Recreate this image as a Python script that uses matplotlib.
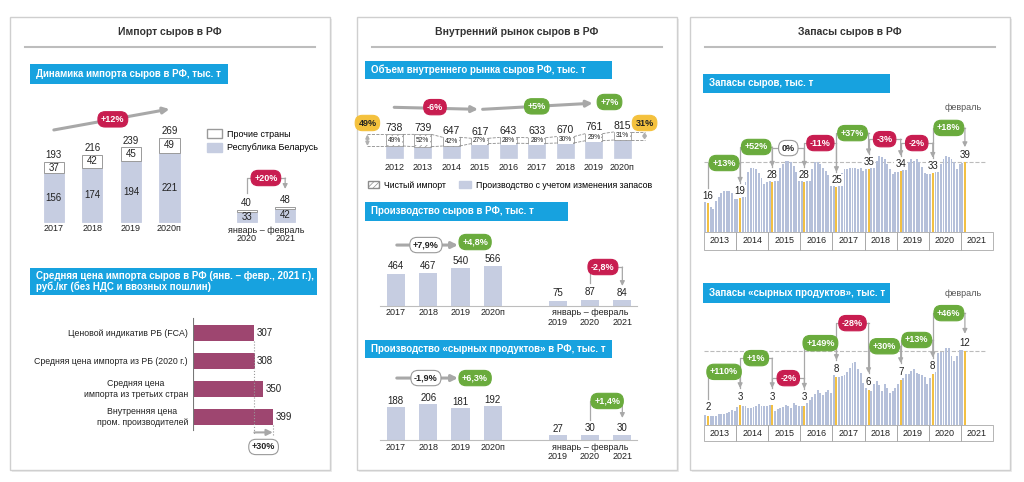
"""Cheese market infographic: import, domestic market and stocks (RF)."""

import matplotlib

matplotlib.use("Agg")
import matplotlib.pyplot as plt
from matplotlib.patches import Patch, Rectangle

plt.rcParams["font.family"] = ["Liberation Sans", "DejaVu Sans"]
plt.rcParams["hatch.linewidth"] = 0.5

W, H = 1024, 482

BAR = "#c6cde1"
MONTH_BAR = "#b5c0da"
FEB_BAR = "#f2c043"
BLUE = "#17a2df"
RED = "#c81d50"
GREEN = "#6aab3d"
YELLOW = "#f4c13d"
MAROON = "#9e4670"
ARROW = "#a8a8a8"
TEXT = "#222222"

# --- import of cheese ---------------------------------------------------
import_years = ["2017", "2018", "2019", "2020п"]
import_belarus = [156, 174, 194, 221]
import_other = [37, 42, 45, 49]
import_total = [193, 216, 239, 269]
import_jf_years = ["2020", "2021"]
import_jf_belarus = [33, 42]
import_jf_other = [7, 6]
import_jf_total = [40, 48]
import_trend = "+12%"
import_jf_change = "+20%"

price_labels = [
    "Ценовой индикатив РБ (FCA)",
    "Средняя цена импорта из РБ (2020 г.)",
    "Средняя цена\nимпорта из третьих стран",
    "Внутренняя цена\nпром. производителей",
]
price_values = [307, 308, 350, 399]
price_gap = "+30%"

# --- domestic market ----------------------------------------------------
market_years = ["2012", "2013", "2014", "2015", "2016", "2017", "2018", "2019", "2020п"]
market_total = [738, 739, 647, 617, 643, 633, 670, 761, 815]
market_import_share = [49, 52, 42, 27, 28, 28, 30, 29, 31]
market_changes = ["-6%", "+5%", "+7%"]

prod_years = ["2017", "2018", "2019", "2020п"]
prod_values = [464, 467, 540, 566]
jf_years = ["2019", "2020", "2021"]
prod_jf = [75, 87, 84]
prod_changes = ["+7,9%", "+4,8%", "-2,8%"]

cp_values = [188, 206, 181, 192]
cp_jf = [27, 30, 30]
cp_changes = ["-1,9%", "+6,3%", "+1,4%"]

# --- stocks, monthly Jan 2013 .. Feb 2021 -------------------------------
stock_years = ["2013", "2014", "2015", "2016", "2017", "2018", "2019", "2020", "2021"]
cheese_stock = [
    18.5, 16, 14, 13, 17, 19.5, 22, 23, 23, 23, 21.5, 18.5,
    18.5, 19, 22, 28, 33.5, 36, 36, 35, 33, 30, 27, 28,
    29, 28, 30, 33, 36, 38, 40, 40, 39, 37, 33.5, 31,
    31, 28, 30, 32, 35, 39, 39, 38, 36, 34, 32, 30,
    26, 25, 29, 33, 35, 35.5, 36, 36, 36, 35, 36, 34,
    35.5, 35, 36, 37, 40, 42.4, 42, 41, 38, 35.5, 32.7, 33.6,
    33.6, 34, 35.5, 37.4, 39, 40.6, 40, 41, 39, 36.4, 33, 32.7,
    32.7, 33, 33.6, 35.5, 38, 41, 42.4, 42, 41, 39, 35.5, 38,
    38.7, 39,
]
cheese_feb_labels = ["16", "19", "28", "28", "25", "35", "34", "33", "39"]
cheese_changes = ["+13%", "+52%", "0%", "-11%", "+37%", "-3%", "-2%", "+18%"]

cp_stock = [
    1.6, 1.5, 1.4, 1.4, 1.5, 1.7, 1.7, 1.8, 2.0, 2.1, 2.4, 2.2,
    2.9, 3.2, 3.0, 3.0, 2.8, 2.8, 2.9, 3.1, 3.3, 3.0, 3.0, 3.1,
    3.2, 3.2, 2.3, 2.6, 2.7, 2.9, 3.2, 3.0, 2.7, 3.5, 3.2, 3.1,
    3.1, 3.1, 3.6, 4.0, 4.5, 5.0, 5.6, 5.2, 4.8, 5.3, 5.6, 5.2,
    8.3, 7.7, 7.7, 7.8, 8.0, 8.5, 9.2, 10.0, 10.1, 9.0, 8.3, 6.7,
    6.5, 5.6, 5.5, 6.5, 7.0, 6.4, 5.5, 6.6, 6.0, 5.2, 5.5, 6.0,
    6.6, 7.2, 8.3, 8.2, 8.1, 8.6, 8.9, 8.3, 8.2, 8.0, 7.7, 6.6,
    7.5, 8.1, 10.0, 11.5, 11.7, 11.7, 12.3, 12.4, 11.0, 10.3, 11.0, 12.0,
    12.0, 11.9,
]
cp_feb_labels = ["2", "3", "3", "3", "8", "6", "7", "8", "12"]
cp_stock_changes = ["+110%", "+1%", "-2%", "+149%", "-28%", "+30%", "+13%", "+46%"]


fig = plt.figure(figsize=(W / 100, H / 100), dpi=100)
fig.patch.set_facecolor("white")

bg = fig.add_axes([0, 0, 1, 1])
bg.set_xlim(0, W)
bg.set_ylim(H, 0)
bg.axis("off")


def px_axes(x0, y0, x1, y1, xlim, ylim):
    ax = fig.add_axes([x0 / W, 1 - y1 / H, (x1 - x0) / W, (y1 - y0) / H])
    ax.set_xlim(*xlim)
    ax.set_ylim(*ylim)
    ax.set_facecolor("none")
    ax.axis("off")
    return ax


def badge(ax, x, y, text, kind=None, fs=6.5):
    if kind is None:
        kind = "green" if text.startswith("+") else "red" if text.startswith("-") else "white"
    fc, tc, ec = {
        "green": (GREEN, "white", GREEN),
        "red": (RED, "white", RED),
        "white": ("white", TEXT, "#9a9a9a"),
        "yellow": (YELLOW, TEXT, YELLOW),
    }[kind]
    ax.text(x, y, text, ha="center", va="center", fontsize=fs, weight="bold", color=tc,
            zorder=8, clip_on=False,
            bbox=dict(boxstyle="round,pad=0.35,rounding_size=0.8", fc=fc, ec=ec, lw=0.8))


def bracket(ax, x0, y0, x1, y1, ytop):
    ax.plot([x0, x0, x1], [y0, ytop, ytop], color=ARROW, lw=0.9, zorder=5, clip_on=False)
    ax.annotate("", xy=(x1, y1), xytext=(x1, ytop), annotation_clip=False, zorder=5,
                arrowprops=dict(arrowstyle="-|>", color=ARROW, lw=0.9, mutation_scale=7,
                                shrinkA=0, shrinkB=0))


def trend(ax, p0, p1, lw=2.2):
    ax.annotate("", xy=p1, xytext=p0, annotation_clip=False, zorder=4,
                arrowprops=dict(arrowstyle="-|>", color=ARROW, lw=lw, mutation_scale=9,
                                shrinkA=0, shrinkB=0))


# panels, titles and blue headers
panels = [
    (10, 330, "Импорт сыров в РФ"),
    (357, 677, "Внутренний рынок сыров в РФ"),
    (690, 1010, "Запасы сыров в РФ"),
]
for x0, x1, title in panels:
    bg.add_patch(Rectangle((x0 + 2, 19), x1 - x0, 453, fc="#ececec", ec="none"))
    bg.add_patch(Rectangle((x0, 17), x1 - x0, 453, fc="white", ec="#cfcfcf", lw=1))
    bg.text((x0 + x1) / 2, 32, title, ha="center", va="center", fontsize=7.5,
            weight="bold", color="#333333")
    bg.plot([x0 + 15, x1 - 15], [47, 47], color="#bdbdbd", lw=1.5)

headers = [
    (30, 64, 228, 84, "Динамика импорта сыров в РФ, тыс. т"),
    (30, 268, 317, 295, "Средняя цена импорта сыров в РФ (янв. – февр., 2021 г.),\n"
                        "руб./кг (без НДС и ввозных пошлин)"),
    (365, 61, 612, 79, "Объем внутреннего рынка сыров РФ, тыс. т"),
    (365, 202, 568, 221, "Производство сыров в РФ, тыс. т"),
    (365, 340, 612, 358, "Производство «сырных продуктов» в РФ, тыс. т"),
    (703, 74, 890, 93, "Запасы сыров, тыс. т"),
    (703, 283, 890, 303, "Запасы «сырных продуктов», тыс. т"),
]
for x0, y0, x1, y1, label in headers:
    bg.add_patch(Rectangle((x0, y0), x1 - x0, y1 - y0, fc=BLUE, ec="none"))
    bg.text(x0 + 6, (y0 + y1) / 2, label, ha="left", va="center", fontsize=7,
            weight="bold", color="white", linespacing=1.15)

# ---- panel 1: import dynamics ----
ax = px_axes(23, 100, 316, 245, (-0.8, 6.8), (-73.7, 391))
xs = [0, 1, 2, 3]
xj = [5, 6]
ax.bar(xs + xj, import_belarus + import_jf_belarus, width=0.52, color=BAR, edgecolor=BAR, lw=0.6)
ax.bar(xs + xj, import_other + import_jf_other, bottom=import_belarus + import_jf_belarus,
       width=0.52, color="white", edgecolor="#9a9a9a", lw=0.7)
for x, b, o, t in zip(xs + xj, import_belarus + import_jf_belarus,
                      import_other + import_jf_other, import_total + import_jf_total):
    ax.text(x, b / 2, str(b), ha="center", va="center", fontsize=7, color=TEXT)
    if o > 20:
        ax.text(x, b + o / 2, str(o), ha="center", va="center", fontsize=7, color=TEXT)
    ax.text(x, t + 22, str(t), ha="center", va="center", fontsize=7, color=TEXT)
for x, yr in zip(xs, import_years):
    ax.text(x, -22, yr, ha="center", va="center", fontsize=6.5, color=TEXT)
ax.text(5.5, -28, "январь – февраль", ha="center", va="center", fontsize=6.5, color=TEXT)
for x, yr in zip(xj, import_jf_years):
    ax.text(x, -54, yr, ha="center", va="center", fontsize=6.5, color=TEXT)
ax.legend([Patch(fc="white", ec="#9a9a9a"), Patch(fc=BAR, ec=BAR)],
          ["Прочие страны", "Республика Беларусь"], loc="upper left",
          bbox_to_anchor=(0.614, 0.83), frameon=False, fontsize=6.5, handlelength=1.6,
          handleheight=1.1, labelspacing=0.5, borderpad=0, handletextpad=0.6)
trend(ax, (0, 295), (3, 362))
badge(ax, 1.53, 329, import_trend, "red")
bracket(ax, 5, import_jf_total[0] + 53, 6, import_jf_total[1] + 58, 141)
badge(ax, 5.5, 141, import_jf_change, "red")

# ---- panel 1: import prices ----
ax = px_axes(193, 305, 313, 462, (0, 600), (4.607, -1.0))
yi = list(range(len(price_values)))
ax.barh(yi, price_values, height=0.54, color=MAROON)
for y, v, lab in zip(yi, price_values, price_labels):
    ax.text(v + 12, y, str(v), ha="left", va="center", fontsize=7, color=TEXT)
    ax.text(-25, y, lab, ha="right", va="center", multialignment="center",
            fontsize=6.3, color=TEXT, linespacing=1.2)
ax.plot([0, 0], [-0.55, 3.45], color="#777777", lw=0.8)
ax.plot([price_values[0]] * 2, [0.27, 3.65], ls=":", color="#999999", lw=0.8)
ax.plot([price_values[-1]] * 2, [3.27, 3.65], ls=":", color="#999999", lw=0.8)
trend(ax, (price_values[0], 3.55), (price_values[-1], 3.55), lw=1.5)
badge(ax, (price_values[0] + price_values[-1]) / 2, 4.07, price_gap, "white")

# ---- panel 2: domestic market volume ----
ax = px_axes(360, 95, 648, 195, (-1.2, 8.9), (-1156, 1969))
xm = list(range(len(market_total)))
imp = [t * s / 100 for t, s in zip(market_total, market_import_share)]
prod = [t - i for t, i in zip(market_total, imp)]
ax.bar(xm, prod, width=0.6, color=BAR, edgecolor=BAR, lw=0.5)
ax.bar(xm, imp, bottom=prod, width=0.6, color="white", edgecolor="#8c8c8c",
       hatch="//////", lw=0.5)
for x, p, i, t, s, yr in zip(xm, prod, imp, market_total, market_import_share, market_years):
    ax.text(x, p + i / 2, f"{s}%", ha="center", va="center", fontsize=4.8, color=TEXT,
            bbox=dict(boxstyle="square,pad=0.15", fc="white", ec="none"))
    ax.text(x, t + 200, str(t), ha="center", va="center", fontsize=7.5, color=TEXT)
    ax.text(x, -312, yr, ha="center", va="center", fontsize=6.5, color=TEXT)
for level in (market_total, prod):
    for i in range(len(level) - 1):
        ax.plot([i + 0.3, i + 0.7], [level[i], level[i + 1]], ls="--", color="#8c8c8c", lw=0.6)
    ax.plot([-0.94, -0.3], [level[0]] * 2, ls="--", color="#8c8c8c", lw=0.6)
    ax.plot([8.3, 8.78], [level[-1]] * 2, ls="--", color="#8c8c8c", lw=0.6)
for x, k in ((-0.94, 0), (8.78, -1)):
    ax.annotate("", xy=(x, market_total[k]), xytext=(x, prod[k]), annotation_clip=False,
                arrowprops=dict(arrowstyle="<|-|>", color="#b0b0b0", lw=1.2,
                                mutation_scale=5, shrinkA=0, shrinkB=0))
ax.legend([Patch(fc="white", ec="#8c8c8c", hatch="//////"), Patch(fc=BAR, ec=BAR)],
          ["Чистый импорт", "Производство с учетом изменения запасов"], loc="center",
          bbox_to_anchor=(0.52, 0.1), ncol=2, frameon=False, fontsize=6.3,
          handlelength=1.3, columnspacing=1.5, handletextpad=0.6)
trend(ax, (0, 1584), (2.94, 1522))
trend(ax, (3.1, 1522), (6.96, 1712))
badge(ax, 1.43, 1590, market_changes[0])
badge(ax, 5.0, 1614, market_changes[1])
badge(ax, 7.55, 1750, market_changes[2])
badge(ax, -0.94, 1094, f"{market_import_share[0]}%", "yellow")
badge(ax, 8.78, 1094, f"{market_import_share[-1]}%", "yellow")


def production_chart(box, ylim, values, jf_values, changes, lab_off, yr_y, sub_y,
                     trend_y, green_y, br, badge_pos):
    ax = px_axes(*box, (-1.2, 7.7), ylim)
    xs = [0, 1, 2, 3]
    xj = [5, 6, 7]
    ax.bar(xs + xj, values + jf_values, width=0.56, color=BAR)
    ax.plot([-0.5, 7.45], [0, 0], color="#bdbdbd", lw=0.8)
    for x, v in zip(xs + xj, values + jf_values):
        ax.text(x, v + lab_off, str(v), ha="center", va="center", fontsize=7, color=TEXT)
    for x, yr in zip(xs, prod_years):
        ax.text(x, yr_y, yr, ha="center", va="center", fontsize=6.5, color=TEXT)
    ax.text(6, yr_y, "январь – февраль", ha="center", va="center", fontsize=6.5, color=TEXT)
    for x, yr in zip(xj, jf_years):
        ax.text(x, sub_y, yr, ha="center", va="center", fontsize=6.5, color=TEXT)
    trend(ax, (0.03, trend_y), (1.92, trend_y))
    badge(ax, 0.93, trend_y, changes[0], "white")
    badge(ax, 2.45, green_y, changes[1])
    bracket(ax, 6, br[0], 7, br[1], br[2])
    badge(ax, badge_pos, br[2], changes[2])


production_chart((357, 230, 645, 330), (-343, 1086), prod_values, prod_jf, prod_changes,
                 108, -100, -229, 871, 914, (329, 286, 557), 6.4)
production_chart((357, 365, 645, 462), (-125.7, 428.6), cp_values, cp_jf, cp_changes,
                 36, -40, -97, 354, 354, (114, 126, 223), 6.53)


# ---- panel 3: monthly stocks ----
def stock_chart(box, ylim, values, feb_labels, changes, levels, lab_off, arr_off, box_h,
                feb_text_y):
    ax = px_axes(*box, (-0.5, 107.5), ylim)
    xm = list(range(len(values)))
    colors = [FEB_BAR if i % 12 == 1 else MONTH_BAR for i in xm]
    ax.bar(xm, values, width=0.72, color=colors)
    feb = values[1::12]
    ax.plot([-0.5, 105], [feb[-1]] * 2, ls="--", color="#bbbbbb", lw=0.8, zorder=0)
    for k, yr in enumerate(stock_years):
        ax.add_patch(Rectangle((12 * k - 0.5, -box_h), 12, box_h, fc="none",
                               ec="#a8a8a8", lw=0.6, clip_on=False))
        ax.text(12 * k + 5.5, -box_h / 2, yr, ha="center", va="center", fontsize=6.5,
                color=TEXT)
    for k, (v, lab) in enumerate(zip(feb, feb_labels)):
        ax.text(12 * k + 1, v + lab_off, lab, ha="center", va="center", fontsize=7,
                color=TEXT, zorder=6,
                bbox=dict(boxstyle="square,pad=0.1", fc="white", ec="none"))
    for k, (ch, lvl) in enumerate(zip(changes, levels)):
        x0, x1 = 12 * k + 1, 12 * k + 13
        bracket(ax, x0, feb[k] + arr_off, x1, feb[k + 1] + arr_off, lvl)
        badge(ax, (x0 + x1) / 2, lvl, ch)
    ax.text(96.3, feb_text_y, "февраль", ha="center", va="center", fontsize=6.5,
            color="#555555")


stock_chart((704, 100, 993, 252), (-11.4, 74), cheese_stock, cheese_feb_labels,
            cheese_changes, [38.6, 47.6, 47, 49.8, 55.4, 52, 49.8, 58.3], 4, 8.5, 10, 70)
stock_chart((704, 300, 993, 446), (-3.36, 20), cp_stock, cp_feb_labels, cp_stock_changes,
            [8.5, 10.7, 7.5, 13.1, 16.3, 12.6, 13.6, 17.9], 1.3, 2.7, 2.6, 21.1)

fig.savefig("out.png", dpi=100)
